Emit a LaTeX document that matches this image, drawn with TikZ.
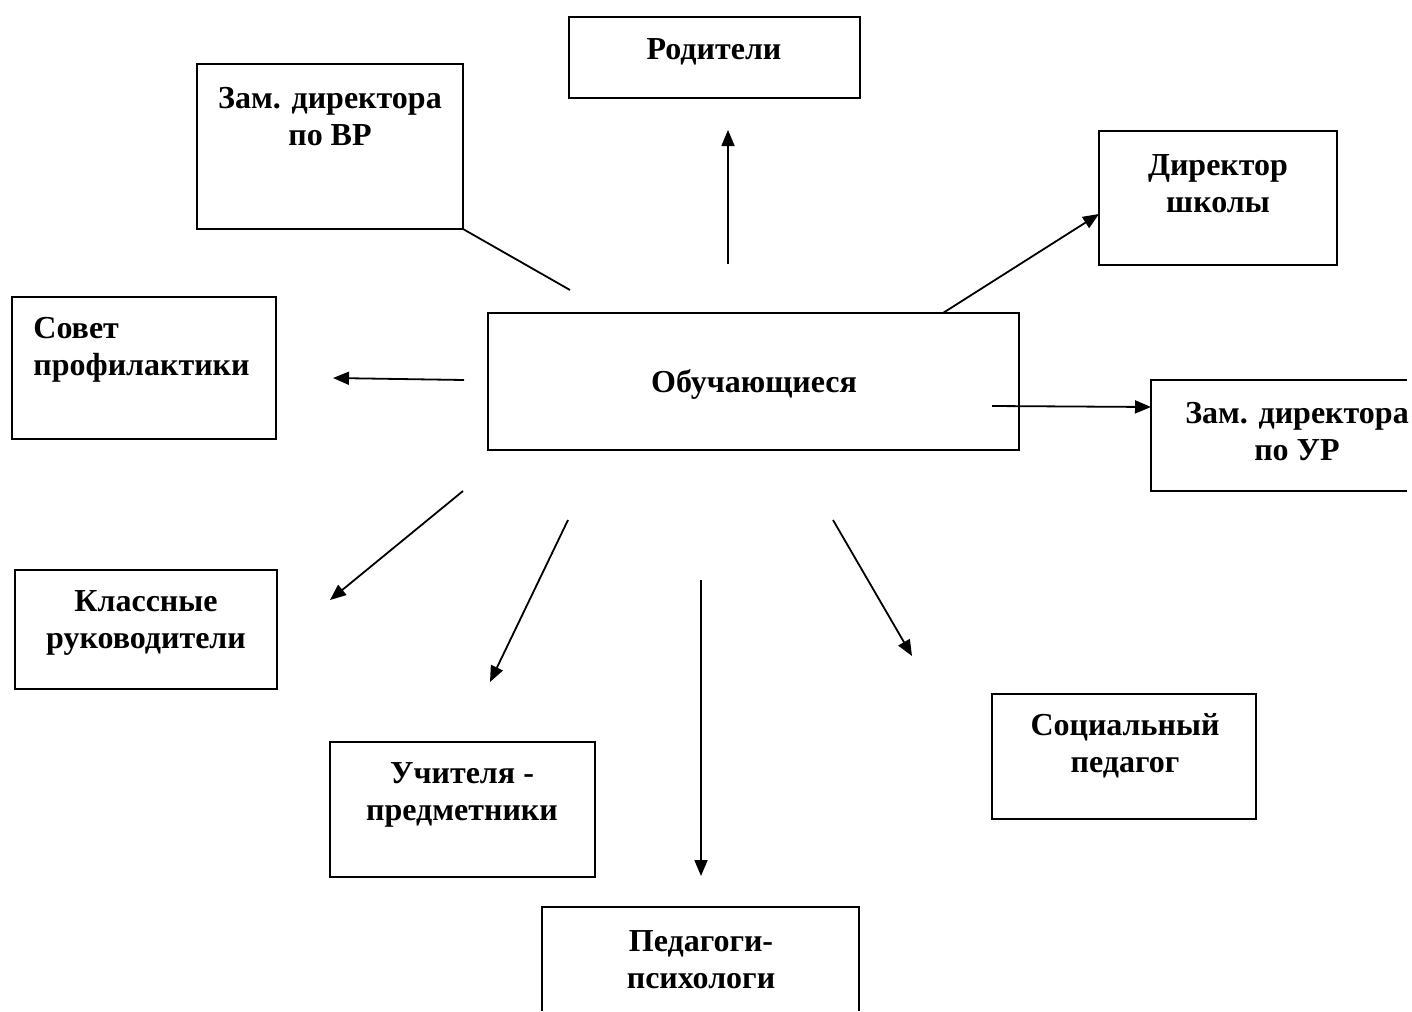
\documentclass[tikz,border=0pt]{standalone}
\usepackage{fontspec}
\setmainfont{Liberation Serif}
\usetikzlibrary{arrows.meta}
\begin{document}
\begin{tikzpicture}[x=0.5pt,y=-0.5pt,
  boxline/.style={line width=1pt},
  lbl/.style={font=\fontsize{16}{18.5}\selectfont\bfseries, align=center, inner sep=0pt},
  conn/.style={line width=0.9pt, -{Triangle[length=8pt,width=6.5pt]}},
  plainconn/.style={line width=0.9pt}]
\useasboundingbox (0,0) rectangle (1412,1011);
% boxes
\draw[boxline] (569,17) rectangle (860,98);
\draw[boxline] (197,64) rectangle (463,229);
\draw[boxline] (1099,131) rectangle (1337,265);
\draw[boxline] (12,297) rectangle (276,439);
\draw[boxline] (488,313) rectangle (1019,450);
\draw[boxline] (1407,380) -- (1151,380) -- (1151,491) -- (1407,491);
\draw[boxline] (15,570) rectangle (277,689);
\draw[boxline] (330,742) rectangle (595,877);
\draw[boxline] (542,1011) -- (542,907) -- (859,907) -- (859,1011);
\draw[boxline] (992,694) rectangle (1256,819);
% texts
\node[lbl] (rod) at (714,52) {Родители};
\node[lbl] (zvr) at (330,117) {Зам. директора\\по ВР};
\node[lbl] (dir) at (1218,184) {Директор\\школы};
\node[lbl, align=left, anchor=west] (sov) at (33,350) {Совет\\профилактики};
\node[lbl] (obu) at (754,384) {Обучающиеся};
\node[lbl] (zur) at (1297,432) {Зам. директора\\по УР};
\node[lbl] (kla) at (146,623) {Классные\\руководители};
\node[lbl] (uch) at (462,795) {Учителя -\\предметники};
\node[lbl] (ped) at (701,960) {Педагоги-\\психологи};
\node[lbl] (soc) at (1125,746) {Социальный\\педагог};
% connector end points
\coordinate (a1) at (728,264); \coordinate (b1) at (728,130);
\coordinate (a2) at (570,290); \coordinate (b2) at (463,229);
\coordinate (a3) at (943,313); \coordinate (b3) at (1099,214);
\coordinate (a4) at (464,380); \coordinate (b4) at (333,378);
\coordinate (a5) at (992,406); \coordinate (b5) at (1151,407);
\coordinate (a6) at (463,491); \coordinate (b6) at (330,600);
\coordinate (a7) at (568,520); \coordinate (b7) at (490,682);
\coordinate (a8) at (701,580); \coordinate (b8) at (701,876);
\coordinate (a9) at (833,520); \coordinate (b9) at (912,656);
\draw[conn] (a1) -- (b1);
\draw[plainconn] (a2) -- (b2);
\draw[conn] (a3) -- (b3);
\draw[conn] (a4) -- (b4);
\draw[conn] (a5) -- (b5);
\draw[conn] (a6) -- (b6);
\draw[conn] (a7) -- (b7);
\draw[conn] (a8) -- (b8);
\draw[conn] (a9) -- (b9);
\end{tikzpicture}
\end{document}
